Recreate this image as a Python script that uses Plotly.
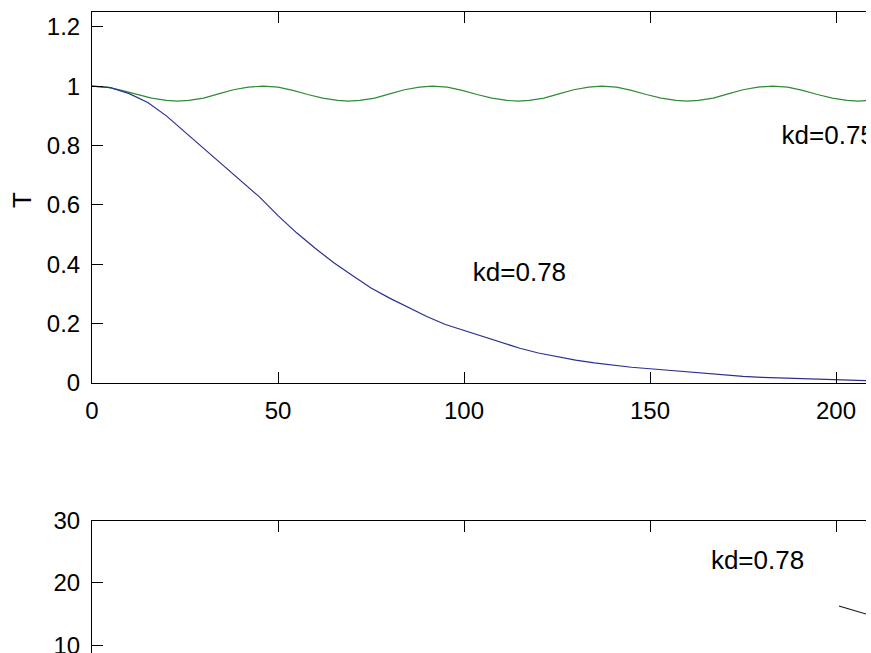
import plotly.graph_objects as go

# ---- data ----
green_x = [0, 4, 8, 12, 16, 20, 23, 26, 30, 34, 38, 42,
           46, 50, 54, 58, 62, 66, 69, 72, 76, 80, 84, 88,
           91.5, 95.5, 99.5, 103.5, 107.5, 111.5, 114.5, 117.5, 121.5, 125.5, 129.5, 133.5,
           137, 141, 145, 149, 153, 157, 160, 163, 167, 171, 175, 179,
           183, 187, 191, 195, 199, 203, 206, 209, 213]
green_y = [1.0, 0.997, 0.986, 0.972, 0.960, 0.952, 0.950, 0.952, 0.960, 0.974, 0.988, 0.997,
           1.0, 0.997, 0.986, 0.972, 0.960, 0.952, 0.950, 0.952, 0.960, 0.974, 0.988, 0.997,
           1.0, 0.997, 0.986, 0.972, 0.960, 0.952, 0.950, 0.952, 0.960, 0.974, 0.988, 0.997,
           1.0, 0.997, 0.986, 0.972, 0.960, 0.952, 0.950, 0.952, 0.960, 0.974, 0.988, 0.997,
           1.0, 0.997, 0.986, 0.972, 0.960, 0.952, 0.950, 0.952, 0.960]

blue_x = [0, 5, 10, 15, 20, 25, 30, 35, 40, 45, 50, 55, 60, 65, 70, 75, 80, 85, 90, 95,
          100, 105, 110, 115, 120, 125, 130, 135, 140, 145, 150, 155, 160, 165, 170, 175,
          180, 185, 190, 195, 200, 205, 210]
blue_y = [1.0, 0.995, 0.975, 0.945, 0.900, 0.845, 0.790, 0.738, 0.683, 0.627, 0.564, 0.506,
          0.454, 0.405, 0.362, 0.320, 0.286, 0.255, 0.224, 0.197, 0.177, 0.157, 0.135, 0.117,
          0.101, 0.088, 0.077, 0.068, 0.060, 0.053, 0.048, 0.043, 0.036, 0.031, 0.026, 0.022,
          0.019, 0.017, 0.015, 0.013, 0.011, 0.009, 0.007]

black_x = [200.8, 204.5, 208.1, 212]
black_y = [16.3, 15.65, 15.0, 14.3]

label_text = ["kd=0.75", "kd=0.78", "kd=0.78"]
label_x = [197.9, 114.9, 178.9]
label_y = [0.828, 0.367, 23.2]

x_ticks = [0, 50, 100, 150, 200]
top_y_ticks = [0, 0.2, 0.4, 0.6, 0.8, 1, 1.2]
bot_y_ticks = [10, 20, 30]

FONT = "Liberation Sans, Arial, sans-serif"

fig = go.Figure()
fig.add_trace(go.Scatter(x=green_x, y=green_y, mode="lines",
                         line=dict(color="#2f8a34", width=1.2), xaxis="x", yaxis="y"))
fig.add_trace(go.Scatter(x=blue_x, y=blue_y, mode="lines",
                         line=dict(color="#2c2f8f", width=1.2), xaxis="x", yaxis="y"))
fig.add_trace(go.Scatter(x=black_x, y=black_y, mode="lines",
                         line=dict(color="#111111", width=1.1), xaxis="x2", yaxis="y2"))
fig.add_trace(go.Scatter(x=label_x[:2], y=label_y[:2], text=label_text[:2], mode="text",
                         textposition="middle center", cliponaxis=True,
                         textfont=dict(family=FONT, size=26, color="black"),
                         xaxis="x", yaxis="y"))
fig.add_trace(go.Scatter(x=label_x[2:], y=label_y[2:], text=label_text[2:], mode="text",
                         textposition="middle center", cliponaxis=True,
                         textfont=dict(family=FONT, size=26, color="black"),
                         xaxis="x2", yaxis="y2"))

H = 653
top_px, bot_px = 12, 0
plot_h = H - top_px - bot_px
def frac(py):
    return (H - bot_px - py) / plot_h

common_x = dict(range=[0, 208.06], tickvals=x_ticks, ticks="inside", ticklen=11,
                tickcolor="black", showline=True, linecolor="black", linewidth=1,
                showgrid=False, zeroline=False, automargin=False,
                tickfont=dict(family=FONT, size=24, color="black"))
common_y = dict(ticks="inside", ticklen=11, tickcolor="black", showline=True,
                linecolor="black", linewidth=1, showgrid=False, zeroline=False,
                automargin=False, ticklabeloverflow="allow",
                tickfont=dict(family=FONT, size=24, color="black"))

fig.update_layout(
    width=871, height=H,
    margin=dict(l=92, r=5, t=top_px, b=bot_px, autoexpand=False),
    paper_bgcolor="white", plot_bgcolor="white",
    showlegend=False,
    xaxis=dict(common_x, domain=[0, 1], anchor="y", mirror="ticks",
               ticklabelstandoff=6),
    yaxis=dict(common_y, domain=[frac(383), 1], anchor="x", range=[0, 1.25],
               tickvals=top_y_ticks, ticktext=["0", "0.2", "0.4", "0.6", "0.8", "1", "1.2"],
               ticklabelstandoff=6),
    xaxis2=dict(common_x, domain=[0, 1], anchor="y2", side="top",
                showticklabels=False, matches="x"),
    yaxis2=dict(common_y, domain=[0, frac(520.7)], anchor="x2",
                range=[30 - (H - 520.7) / 6.22, 30], tickvals=bot_y_ticks,
                ticklabelstandoff=6),
    annotations=[dict(text="T", textangle=-90, xref="paper", yref="paper",
                      x=(22 - 92) / 774, y=frac(200), xanchor="center", yanchor="middle",
                      showarrow=False, font=dict(family=FONT, size=26, color="black"))],
)

fig.write_html("out.html",
               config={"displayModeBar": False},
               post_script="document.body.style.margin='0';"
                           "document.body.style.overflow='hidden';")
